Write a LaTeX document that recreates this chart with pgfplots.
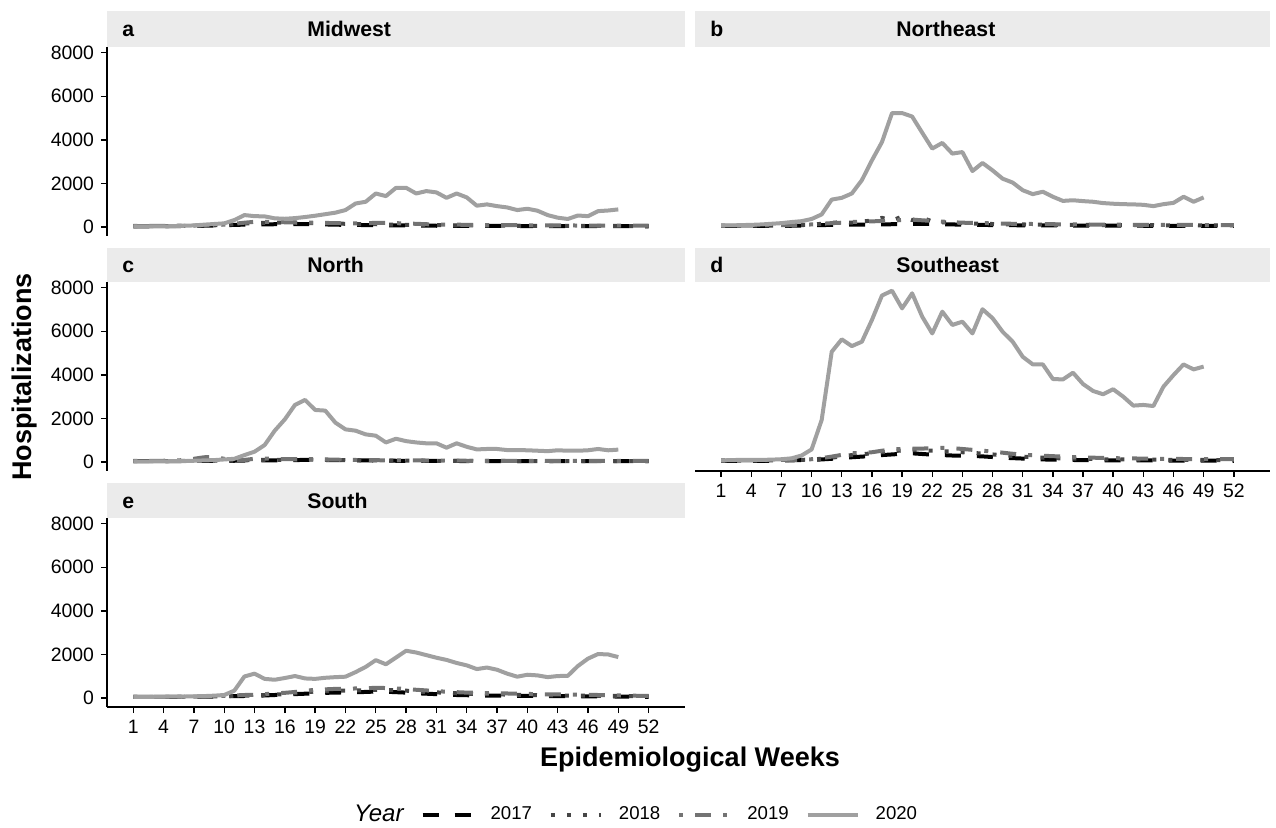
\documentclass[border=0pt]{standalone}
\usepackage{fontspec}
\setmainfont{Liberation Sans}
\usepackage{pgfplots}
\usepackage{pgfplotstable}
\pgfplotsset{compat=1.18}

\definecolor{c17}{RGB}{0,0,0}
\definecolor{c18}{RGB}{70,70,70}
\definecolor{c19}{RGB}{115,115,115}
\definecolor{c20}{RGB}{160,160,160}
\definecolor{stripgray}{RGB}{235,235,235}

% columns: week, 2017, 2018, 2019, 2020
\pgfplotstableread{
w a b c d
1 30 40 50 30
2 30 40 50 30
3 35 40 50 30
4 40 45 55 30
5 45 50 60 45
6 50 55 65 60
7 55 60 70 75
8 60 70 80 110
9 70 80 90 140
10 80 100 110 170
11 100 130 150 320
12 110 160 200 550
13 120 180 240 500
14 120 190 240 490
15 130 200 230 400
16 130 200 220 380
17 140 200 210 410
18 130 190 200 460
19 130 180 200 520
20 120 170 190 590
21 110 160 180 660
22 100 150 170 780
23 100 140 170 1080
24 90 140 180 1160
25 90 130 190 1540
26 80 120 190 1420
27 80 110 180 1800
28 80 100 160 1800
29 70 100 150 1540
30 70 90 130 1650
31 60 90 120 1590
32 60 80 110 1340
33 60 80 110 1540
34 55 75 100 1360
35 55 70 100 980
36 50 70 90 1040
37 50 65 90 960
38 50 65 85 900
39 50 60 85 780
40 45 60 80 840
41 45 60 80 750
42 45 55 75 550
43 45 55 75 430
44 40 55 75 370
45 40 50 70 530
46 40 50 70 500
47 40 50 70 730
48 40 50 70 760
49 40 50 65 810
50 40 45 65 nan
51 40 45 65 nan
52 35 45 60 nan
}\midwest

\pgfplotstableread{
w a b c d
1 50 60 70 75
2 50 60 70 75
3 50 60 70 90
4 50 60 70 100
5 55 65 75 120
6 55 65 80 150
7 60 70 85 180
8 60 80 90 230
9 70 90 100 270
10 80 110 120 370
11 90 150 150 580
12 100 200 180 1260
13 100 220 200 1340
14 110 200 230 1540
15 110 250 250 2150
16 120 300 260 3060
17 120 420 280 3900
18 130 300 300 5230
19 140 480 320 5230
20 150 320 340 5070
21 150 420 310 4330
22 140 260 280 3600
23 130 220 250 3860
24 120 200 220 3370
25 110 180 200 3440
26 100 160 190 2570
27 100 150 180 2940
28 90 140 170 2600
29 90 130 160 2220
30 85 120 150 2040
31 80 120 145 1690
32 80 110 140 1510
33 75 110 135 1620
34 75 105 130 1390
35 70 100 125 1200
36 70 100 120 1230
37 70 95 120 1190
38 70 95 115 1160
39 65 90 110 1100
40 65 90 110 1070
41 65 90 105 1050
42 65 85 105 1040
43 60 85 100 1020
44 60 85 100 960
45 60 80 100 1050
46 60 80 95 1110
47 60 80 95 1390
48 60 80 95 1160
49 55 75 90 1360
50 55 75 90 nan
51 55 75 90 nan
52 55 75 85 nan
}\northeast

\pgfplotstableread{
w a b c d
1 40 40 50 30
2 40 40 50 30
3 40 40 50 35
4 40 45 60 35
5 45 45 70 40
6 45 50 90 45
7 50 55 150 60
8 50 60 220 75
9 55 60 230 90
10 55 65 150 120
11 60 70 100 150
12 65 80 100 320
13 70 90 150 475
14 75 100 160 780
15 80 100 140 1440
16 85 110 130 1960
17 90 110 130 2620
18 100 110 130 2850
19 100 105 130 2390
20 95 100 120 2360
21 90 95 110 1810
22 85 90 100 1500
23 80 85 95 1440
24 75 80 90 1270
25 70 75 85 1210
26 65 70 80 900
27 60 70 80 1070
28 60 65 75 960
29 55 65 75 900
30 55 60 70 860
31 50 60 70 860
32 50 55 65 660
33 50 55 65 860
34 45 55 60 700
35 45 50 60 580
36 45 50 60 600
37 45 50 60 600
38 40 50 55 550
39 40 45 55 550
40 40 45 55 540
41 40 45 55 520
42 40 45 50 500
43 40 45 50 540
44 40 45 50 520
45 40 45 50 520
46 40 45 50 540
47 40 45 50 600
48 40 45 50 540
49 40 45 50 570
50 40 45 50 nan
51 40 45 50 nan
52 40 40 50 nan
}\north

\pgfplotstableread{
w a b c d
1 60 70 80 75
2 55 70 80 90
3 50 65 80 100
4 50 65 80 100
5 55 70 85 100
6 60 75 90 110
7 70 80 95 130
8 80 90 100 170
9 90 100 110 300
10 100 120 130 580
11 120 150 180 1930
12 150 200 250 5060
13 180 260 330 5630
14 220 320 400 5320
15 250 360 430 5520
16 280 400 450 6520
17 320 450 520 7640
18 350 500 580 7860
19 380 530 600 7050
20 400 550 610 7740
21 370 540 620 6670
22 340 520 630 5900
23 320 500 650 6900
24 300 480 640 6290
25 290 450 600 6440
26 280 420 560 5900
27 260 390 520 7010
28 230 350 480 6600
29 200 310 430 5980
30 180 280 380 5520
31 160 250 340 4830
32 140 220 310 4480
33 120 200 290 4480
34 110 180 270 3810
35 100 170 250 3790
36 95 160 230 4100
37 90 150 210 3580
38 85 140 200 3260
39 80 130 190 3110
40 80 120 180 3340
41 80 120 170 3000
42 75 115 165 2590
43 75 110 160 2620
44 75 110 155 2570
45 70 105 150 3460
46 70 100 145 3990
47 70 100 140 4480
48 65 95 140 4250
49 65 95 135 4380
50 65 90 135 nan
51 60 90 130 nan
52 60 90 130 nan
}\southeast

\pgfplotstableread{
w a b c d
1 50 50 60 60
2 50 50 60 60
3 50 50 60 60
4 50 55 60 65
5 50 55 60 65
6 55 60 65 70
7 60 65 70 80
8 65 70 75 90
9 70 75 85 110
10 80 85 100 140
11 90 100 120 340
12 95 110 140 990
13 100 120 150 1120
14 120 140 180 880
15 140 160 210 840
16 160 180 240 920
17 180 220 280 1010
18 200 260 330 900
19 220 300 380 880
20 240 320 400 930
21 250 330 420 960
22 260 340 430 980
23 270 350 440 1190
24 280 360 450 1430
25 300 380 470 1740
26 290 370 460 1550
27 270 360 440 1860
28 250 340 420 2170
29 220 300 380 2090
30 200 280 350 1970
31 180 260 320 1850
32 160 240 290 1750
33 140 220 270 1610
34 130 200 250 1500
35 120 190 240 1330
36 115 180 230 1400
37 110 170 220 1300
38 105 160 210 1120
39 100 150 200 980
40 100 140 190 1070
41 95 130 180 1040
42 95 125 170 960
43 90 120 165 1010
44 90 115 160 1020
45 85 110 155 1470
46 80 110 150 1810
47 80 105 140 2020
48 75 100 130 2000
49 70 100 120 1880
50 65 95 110 nan
51 60 90 105 nan
52 55 85 100 nan
}\south

\pgfplotsset{
  panel/.style={
    scale only axis, height=94.5pt,
    xmin=-1.6, xmax=55.6, ymin=-410, ymax=8260,
    xtick={1,4,...,52}, ytick={0,2000,...,8000},
    scaled y ticks=false,
    tick align=outside, major tick length=3pt,
    tick style={black, line width=0.7pt},
    axis line style={-, black, line width=0.7pt},
    ticklabel style={font=\fontsize{9.7}{10}\selectfont, text=black},
    /pgf/number format/assume math mode=true,
    /pgf/number format/1000 sep={},
    every axis plot/.append style={line width=2pt, line join=round},
    legend image code/.code={\draw[##1] (0pt,0pt) -- (25pt,0pt);},
  },
  leftcol/.style={panel, width=289pt},
  rightcol/.style={panel, width=287.5pt},
  y17/.style={c17, dash pattern=on 8pt off 8pt},
  y18/.style={c18, dash pattern=on 2pt off 6pt},
  y19/.style={c19, dash pattern=on 2pt off 6pt on 8pt off 6pt},
  y20/.style={c20, solid},
}

\newcommand{\series}[1]{%
  \addplot[y17] table[x=w,y=a] {#1};
  \addplot[y18] table[x=w,y=b] {#1};
  \addplot[y19] table[x=w,y=c] {#1};
  \addplot[y20] table[x=w,y=d] {#1};
}

\begin{document}
\begin{tikzpicture}
\useasboundingbox (0pt,0pt) rectangle (638pt,-414pt);

% strips
\fill[stripgray] (53.5pt,-5.5pt) rectangle (342.5pt,-23.5pt);
\fill[stripgray] (347.5pt,-5.5pt) rectangle (635pt,-23.5pt);
\fill[stripgray] (53.5pt,-124pt) rectangle (342.5pt,-141pt);
\fill[stripgray] (347.5pt,-124pt) rectangle (635pt,-141pt);
\fill[stripgray] (53.5pt,-241.5pt) rectangle (342.5pt,-259pt);

\begin{axis}[leftcol, at={(53.5pt,-118pt)}, anchor=south west,
  axis x line=none, axis y line*=left]
\series{\midwest}
\end{axis}

\begin{axis}[rightcol, at={(347.5pt,-118pt)}, anchor=south west,
  axis x line=none, axis y line=none]
\series{\northeast}
\end{axis}

\begin{axis}[leftcol, at={(53.5pt,-235.5pt)}, anchor=south west,
  axis x line=none, axis y line*=left]
\series{\north}
\end{axis}

\begin{axis}[rightcol, at={(347.5pt,-235.5pt)}, anchor=south west,
  axis x line*=bottom, axis y line=none]
\series{\southeast}
\end{axis}

\begin{axis}[leftcol, at={(53.5pt,-353.5pt)}, anchor=south west,
  axis x line*=bottom, axis y line*=left,
  legend columns=5,
  legend style={draw=none, fill=none, inner sep=0pt, outer sep=0pt,
    at={(0.4,-0.571)}, anchor=west,
    font=\fontsize{9.3}{10}\selectfont,
    nodes={inner sep=0pt},
    /tikz/every odd column/.append style={column sep=8pt},
    /tikz/every even column/.append style={column sep=8.5pt}}]
\addlegendimage{empty legend}
\addlegendentry{\fontsize{12}{12}\selectfont\itshape Year}
\addplot[y17] table[x=w,y=a] {\south};
\addlegendentry{2017}
\addplot[y18] table[x=w,y=b] {\south};
\addlegendentry{2018}
\addplot[y19] table[x=w,y=c] {\south};
\addlegendentry{2019}
\addplot[y20] table[x=w,y=d] {\south};
\addlegendentry{2020}
\end{axis}

% strip labels
\begin{scope}[every node/.style={font=\bfseries\fontsize{10.6}{11}\selectfont, anchor=base west, inner sep=0pt}]
\node at (61pt,-18.3pt) {a};   \node at (153.5pt,-18.3pt) {Midwest};
\node at (355pt,-18.3pt) {b};  \node at (448pt,-18.3pt) {Northeast};
\node at (61pt,-136.3pt) {c};  \node at (153.5pt,-136.3pt) {North};
\node at (355pt,-136.3pt) {d}; \node at (448pt,-136.3pt) {Southeast};
\node at (61pt,-254.1pt) {e};  \node at (153.5pt,-254.1pt) {South};
\end{scope}

\node[rotate=90, font=\bfseries\fontsize{13.5}{14}\selectfont] at (12.5pt,-188.5pt) {Hospitalizations};
\node[font=\bfseries\fontsize{13.5}{14}\selectfont] at (345pt,-380pt) {Epidemiological Weeks};
\end{tikzpicture}
\end{document}
